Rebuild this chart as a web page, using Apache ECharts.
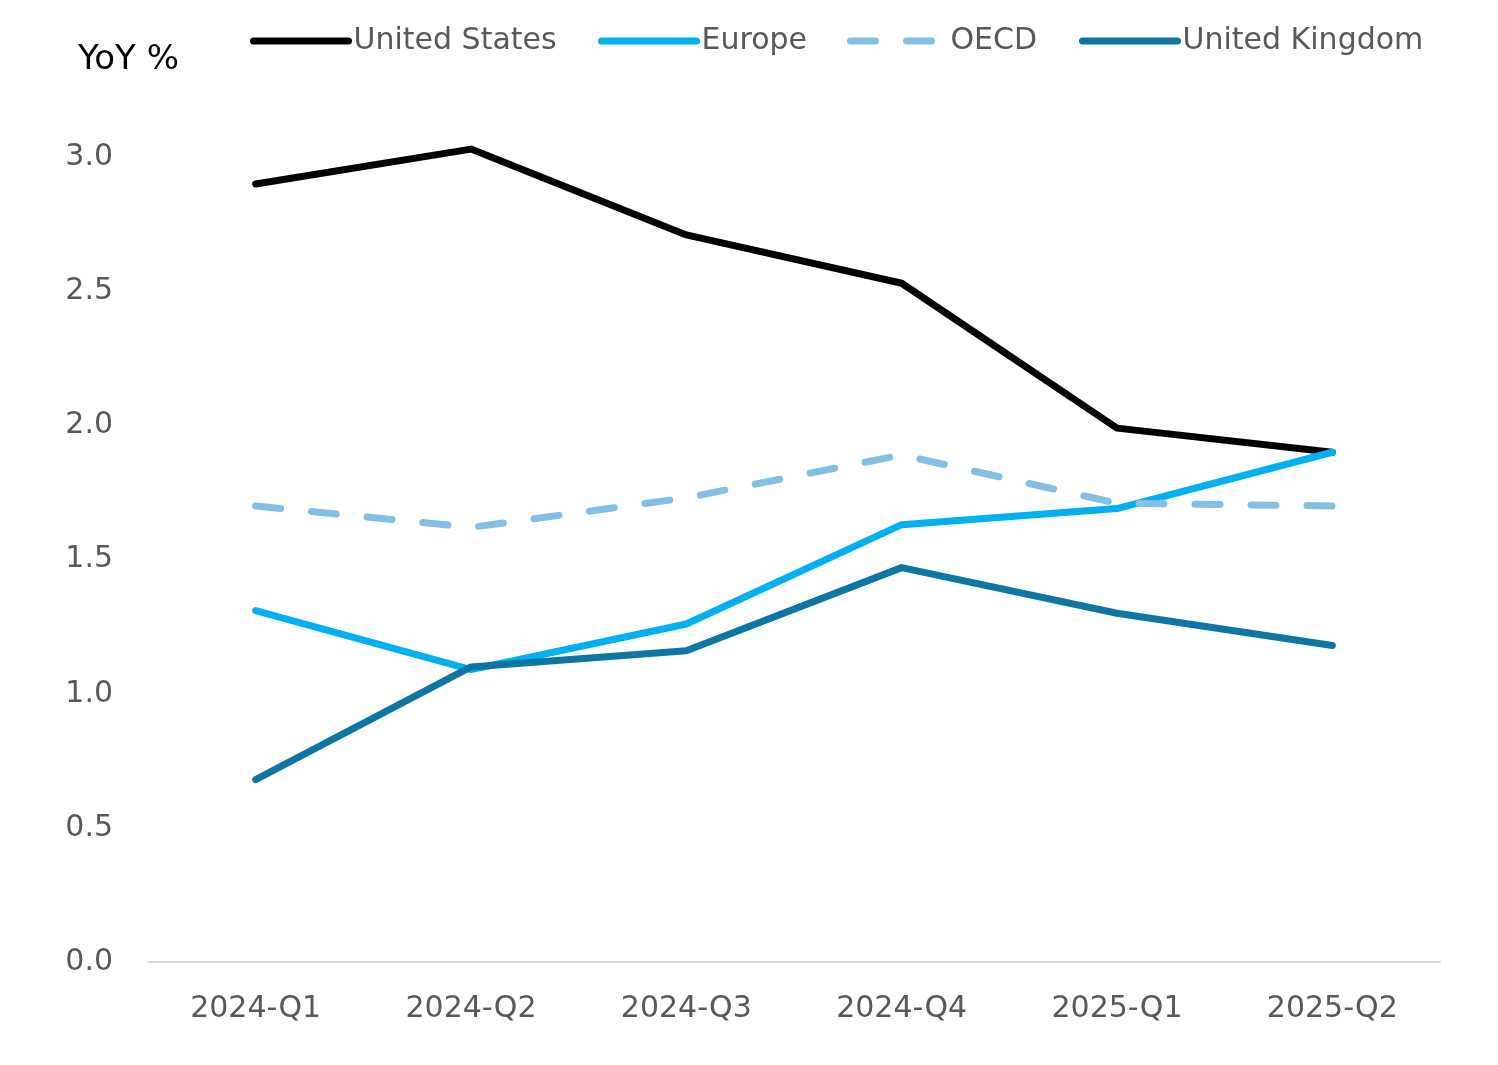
<!DOCTYPE html>
<html>
<head>
<meta charset="utf-8">
<script src="https://cdn.jsdelivr.net/npm/echarts@6/dist/echarts.min.js"></script>
<style>
html,body{margin:0;padding:0;background:#fff;}
#chart{width:1498px;height:1065px;}
</style>
</head>
<body>
<div id="chart"></div>
<script>
const categories = ['2024-Q1','2024-Q2','2024-Q3','2024-Q4','2025-Q1','2025-Q2'];
const unitedStates = [2.9, 3.03, 2.71, 2.53, 1.99, 1.9];
const europe = [1.31, 1.09, 1.26, 1.63, 1.69, 1.9];
const oecd = [1.7, 1.62, 1.73, 1.89, 1.71, 1.7];
const unitedKingdom = [0.68, 1.1, 1.16, 1.47, 1.3, 1.18];
const seriesNames = ['United States','Europe','OECD','United Kingdom'];

const FONT = 'DejaVu Sans';
const LW = 7;
const chart = echarts.init(document.getElementById('chart'));

function mkSeries(name, data, color, dashed) {
  return {
    name: name, type: 'line', data: data, symbol: 'none', smooth: false,
    lineStyle: { color: color, width: LW, type: dashed ? [25, 31] : 'solid', cap: 'round', join: 'round' },
    itemStyle: { color: color }
  };
}
const legendLefts = [245, 593, 842, 1074];
const legends = seriesNames.map((n, i) => ({
  data: [n], left: legendLefts[i], top: 21, itemWidth: 95, itemHeight: 8, itemGap: 0,
  itemStyle: { opacity: 0 },
  lineStyle: { width: LW, cap: 'round' },
  textStyle: { fontFamily: FONT, fontSize: 30, color: '#595959', lineHeight: 30 }
}));

chart.setOption({
  animation: false,
  title: { text: 'YoY %', left: 73, top: 38, textStyle: { fontFamily: FONT, fontSize: 34, fontWeight: 'normal', color: '#000', lineHeight: 34 } },
  legend: legends,
  grid: { left: 148, right: 58, top: 23, bottom: 103, containLabel: false },
  xAxis: {
    type: 'category', data: categories, boundaryGap: true,
    axisLine: { lineStyle: { color: '#D9D9D9', width: 2 } },
    axisTick: { show: false },
    axisLabel: { fontFamily: FONT, fontSize: 30, color: '#595959', margin: 32 }
  },
  yAxis: {
    type: 'value', min: 0, max: 3.5, interval: 0.5,
    axisLine: { show: false }, axisTick: { show: false }, splitLine: { show: false },
    axisLabel: { fontFamily: FONT, fontSize: 30, color: '#595959', margin: 35, showMaxLabel: false,
      padding: [6, 0, 0, 0],
      formatter: v => v.toFixed(1) }
  },
  series: [
    mkSeries('United States', unitedStates, '#000000', false),
    mkSeries('Europe', europe, '#00B0F0', false),
    mkSeries('OECD', oecd, '#83BEE3', true),
    mkSeries('United Kingdom', unitedKingdom, '#0E76A2', false)
  ]
});
</script>
</body>
</html>
